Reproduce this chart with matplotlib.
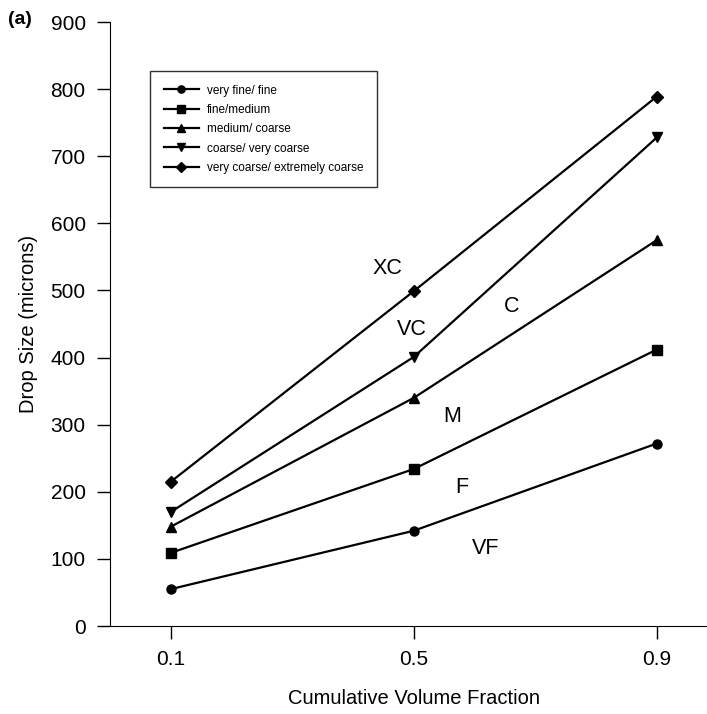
import matplotlib
matplotlib.use("Agg")
import matplotlib.pyplot as plt

plt.rcParams['font.family'] = ['Liberation Sans', 'DejaVu Sans']

x_vals = [0.1, 0.5, 0.9]
x_labels = ["0.1", "0.5", "0.9"]
series_names = ["very fine/ fine", "fine/medium", "medium/ coarse",
                "coarse/ very coarse", "very coarse/ extremely coarse"]
vf = [55, 142, 272]
f = [109, 234, 412]
m = [148, 340, 575]
c = [170, 401, 728]
xc = [215, 499, 789]
markers = ["o", "s", "^", "v", "D"]

class_labels = ["XC", "VC", "C", "M", "F", "VF"]
class_x = [0.456, 0.497, 0.661, 0.564, 0.579, 0.618]
class_y = [533, 442, 476, 312, 207, 116]

fig = plt.figure(figsize=(7.07, 7.14), dpi=100)
ax = fig.add_axes([0.1556, 0.1232, 0.8593, 0.8459])

for ys, mk, name in zip([vf, f, m, c, xc], markers, series_names):
    ax.plot(x_vals, ys, color="black", lw=1.6, marker=mk,
            ms=6.5 if mk != "D" else 6, label=name)

for t, tx, ty in zip(class_labels, class_x, class_y):
    ax.text(tx, ty, t, fontsize=15.5, ha="center", va="center")

ax.set_xlim(0, 1.0)
ax.set_ylim(0, 900)
ax.set_xticks(x_vals)
ax.set_xticklabels(x_labels)
ax.set_yticks(range(0, 901, 100))
ax.tick_params(axis="both", direction="out", length=9.5, width=1, labelsize=15, pad=8)
ax.spines["top"].set_visible(False)
ax.spines["right"].set_visible(False)
ax.set_xlabel("Cumulative Volume Fraction", fontsize=14.5, labelpad=14)
ax.set_ylabel("Drop Size (microns)", fontsize=14.5, labelpad=9)

leg = ax.legend(loc="upper left", bbox_to_anchor=(0.066, 0.919), borderaxespad=0,
                fontsize=8.5, frameon=True, fancybox=False, edgecolor="black",
                handlelength=3.0, handletextpad=0.7, labelspacing=0.62,
                borderpad=1.15, markerscale=0.8)
leg.get_frame().set_linewidth(1.0)

fig.text(0.012, 0.972, "(a)", fontsize=14, fontweight="bold", ha="left", va="center")

fig.savefig("out.png", dpi=100)
